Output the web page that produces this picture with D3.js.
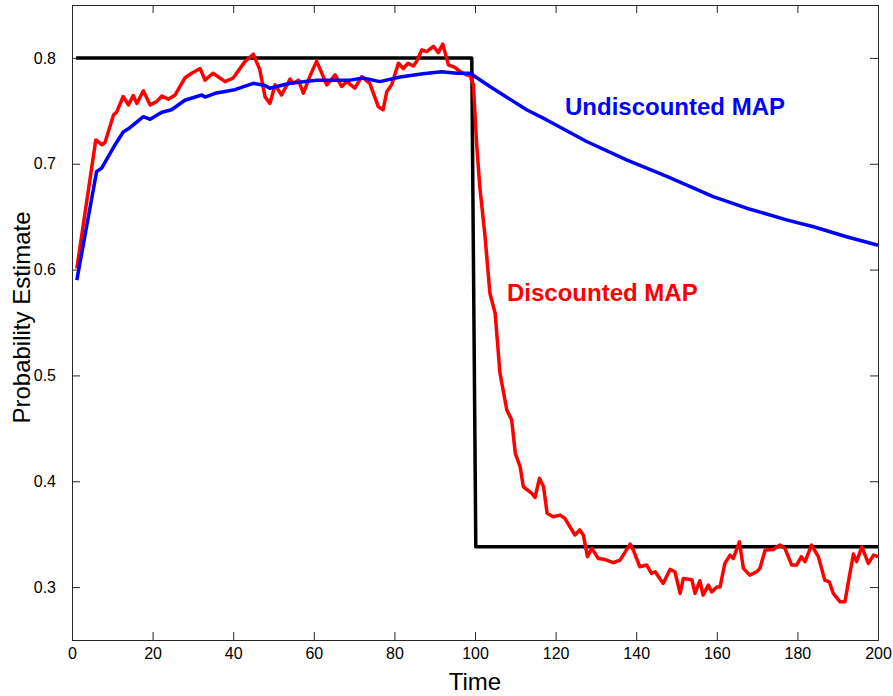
<!DOCTYPE html>
<html>
<head>
<meta charset="utf-8">
<script src="https://cdn.jsdelivr.net/npm/d3@7"></script>
<style>
  html, body { margin: 0; padding: 0; background: #fff; }
  svg { display: block; }
  text { font-family: "Liberation Sans", Arial, Helvetica, sans-serif; }
</style>
</head>
<body>
<svg id="chart" width="893" height="696"></svg>
<script>
// Axis ticks
const xTicks = [0, 20, 40, 60, 80, 100, 120, 140, 160, 180, 200];
const yTicks = [0.3, 0.4, 0.5, 0.6, 0.7, 0.8];

// True probability (step change at t = 100)
const trueTime = [1, 99.2, 100.2, 200];
const trueProb = [0.8, 0.8, 0.338, 0.338];

// Undiscounted MAP estimate
const undiscTime = [1.2, 6.1, 7.4, 10.7, 12.7, 14, 15.6, 17.7, 19.4, 22.3, 24.7, 28, 32.2, 33, 35.5,
  40.4, 45, 47.9, 49.1, 54.1, 60.7, 69, 72.2, 76.4, 81.4, 87.1, 91.7, 95.5, 98.8, 103.7, 107,
  112.8, 117.8, 127.7, 137.6, 147.6, 159.1, 167.4, 177.3, 184, 192.2, 200];
const undiscProb = [0.590, 0.6925, 0.696, 0.718, 0.730, 0.733, 0.738, 0.7445, 0.742, 0.7487, 0.751,
  0.760, 0.765, 0.763, 0.7666, 0.770, 0.776, 0.774, 0.7714, 0.776, 0.779, 0.779, 0.781, 0.7776,
  0.782, 0.785, 0.787, 0.7855, 0.7855, 0.773, 0.765, 0.751, 0.7414, 0.721, 0.7036, 0.688, 0.669,
  0.658, 0.647, 0.6405, 0.631, 0.623];

// Discounted MAP estimate
const discTime = [1.2, 5.9, 7.4, 8.2, 10.3, 11.1, 12.7, 14, 15.2, 16.1, 17.7, 19.4, 21, 22.3, 23.9,
  25.6, 28, 29.7, 31.8, 33, 35, 38, 40, 42.9, 45, 46.6, 47.9, 49.1, 50.4, 52, 54.1, 54.9, 56.2,
  57.4, 59, 60.7, 62, 63.2, 65.3, 66.9, 68.2, 70.2, 71.9, 73.9, 76, 77.2, 78.1, 79.3, 81, 82.2,
  83.4, 84.7, 85.5, 86.8, 88, 89.7, 90.9, 92, 93.4, 95, 96.3, 97.9, 98.8, 99.6, 100.4, 101.2,
  102.5, 103.7, 105, 106.2, 107.9, 109.1, 110, 111.2, 112, 114.1, 114.9, 116, 117, 117.9, 119.4,
  121.1, 122.3, 124.8, 126, 126.9, 127.9, 129, 130.6, 132.3, 134.3, 136, 138.5, 139.3, 140.9,
  142.6, 143.8, 144.7, 146.7, 148.4, 149.6, 150.9, 151.7, 153.8, 154.6, 155.8, 156.6, 157.9,
  158.7, 160, 160.8, 162, 163.3, 164.1, 165.6, 166.6, 168.2, 169.9, 170.7, 172, 174, 175.7,
  176.9, 178.6, 179.8, 181, 181.9, 183.5, 185.2, 186.8, 187.9, 188.9, 190.6, 191.8, 192.6,
  193.9, 194.7, 196, 197.6, 198.9, 200];
const discProb = [0.601, 0.7225, 0.718, 0.720, 0.746, 0.749, 0.7635, 0.7556, 0.7644, 0.757, 0.769,
  0.7556, 0.7587, 0.764, 0.761, 0.765, 0.781, 0.7855, 0.790, 0.779, 0.7855, 0.7776, 0.781,
  0.7965, 0.8035, 0.789, 0.7634, 0.757, 0.7745, 0.765, 0.780, 0.776, 0.779, 0.7666, 0.7823,
  0.797, 0.7855, 0.7745, 0.784, 0.773, 0.7776, 0.7714, 0.7823, 0.776, 0.754, 0.751, 0.768,
  0.7745, 0.795, 0.790, 0.795, 0.7924, 0.7965, 0.8076, 0.806, 0.811, 0.805, 0.813, 0.7934,
  0.791, 0.787, 0.784, 0.783, 0.7745, 0.719, 0.678, 0.631, 0.5776, 0.5587, 0.502, 0.4673,
  0.458, 0.4264, 0.4137, 0.3948, 0.3886, 0.3848, 0.4027, 0.3948, 0.3697, 0.3665, 0.368, 0.365,
  0.3492, 0.354, 0.349, 0.3287, 0.3366, 0.327, 0.326, 0.323, 0.3255, 0.3406, 0.335, 0.3192,
  0.3208, 0.313, 0.3145, 0.3035, 0.3167, 0.3145, 0.294, 0.3082, 0.307, 0.294, 0.306, 0.2924,
  0.3019, 0.2955, 0.300, 0.300, 0.3224, 0.3302, 0.327, 0.3428, 0.3177, 0.3113, 0.3145, 0.3177,
  0.335, 0.3356, 0.3397, 0.3366, 0.3208, 0.3208, 0.3287, 0.324, 0.3397, 0.3287, 0.3066, 0.305,
  0.294, 0.2861, 0.2861, 0.3035, 0.3312, 0.324, 0.3381, 0.3224, 0.3302, 0.3287];

const svg = d3.select("#chart");
const margin = { left: 72, right: 15, top: 5, bottom: 56 };
const W = 893, H = 696;
const x = d3.scaleLinear().domain([0, 200]).range([margin.left, W - margin.right]);
const y = d3.scaleLinear().domain([0.25, 0.85]).range([H - margin.bottom, margin.top]);

const tickLen = 8;
const axisColor = "#262626";

// Axes with inward ticks (box style, ticks on all four sides)
const styleAxis = g => {
  g.select(".domain").attr("stroke", axisColor).attr("stroke-width", 1);
  g.selectAll(".tick line").attr("stroke", axisColor).attr("stroke-width", 1);
  g.selectAll(".tick text").attr("fill", "#000").style("font-size", "16px");
};

svg.append("g").attr("transform", `translate(0,${y(0.25)})`)
  .call(d3.axisBottom(x).tickValues(xTicks).tickSize(-tickLen).tickPadding(8).tickFormat(d3.format("d")))
  .call(styleAxis);
svg.append("g").attr("transform", `translate(0,${y(0.85)})`)
  .call(d3.axisTop(x).tickValues(xTicks).tickSize(-tickLen).tickFormat(""))
  .call(styleAxis);
svg.append("g").attr("transform", `translate(${x(0)},0)`)
  .call(d3.axisLeft(y).tickValues(yTicks).tickSize(-tickLen).tickPadding(16).tickFormat(d3.format(".1f")))
  .call(styleAxis);
svg.append("g").attr("transform", `translate(${x(200)},0)`)
  .call(d3.axisRight(y).tickValues(yTicks).tickSize(-tickLen).tickFormat(""))
  .call(styleAxis);

// Series
const line = d3.line().x(d => x(d[0])).y(d => y(d[1]));
const zip = (a, b) => a.map((t, i) => [t, b[i]]);

const series = [
  { pts: zip(trueTime, trueProb), color: "#000000", w: 3.5 },
  { pts: zip(discTime, discProb), color: "#ff0000", w: 3.5 },
  { pts: zip(undiscTime, undiscProb), color: "#0000ff", w: 3.5 }
];
svg.append("g").selectAll("path").data(series).join("path")
  .attr("d", d => line(d.pts))
  .attr("fill", "none")
  .attr("stroke", d => d.color)
  .attr("stroke-width", d => d.w)
  .attr("stroke-linejoin", "round");

// Series labels
svg.append("text").attr("x", 565).attr("y", 115)
  .attr("fill", "#0000ff").style("font-size", "24px").style("font-weight", "bold")
  .text("Undiscounted MAP");
svg.append("text").attr("x", 507).attr("y", 301)
  .attr("fill", "#ff0000").style("font-size", "24px").style("font-weight", "bold")
  .text("Discounted MAP");

// Axis titles
svg.append("text").attr("x", (x(0) + x(200)) / 2).attr("y", 690)
  .attr("text-anchor", "middle").style("font-size", "24px").attr("fill", "#000")
  .text("Time");
svg.append("text")
  .attr("transform", `translate(30,${(y(0.25) + y(0.85)) / 2 - 5}) rotate(-90)`)
  .attr("text-anchor", "middle").style("font-size", "24px").attr("fill", "#000")
  .text("Probability Estimate");
</script>
</body>
</html>
